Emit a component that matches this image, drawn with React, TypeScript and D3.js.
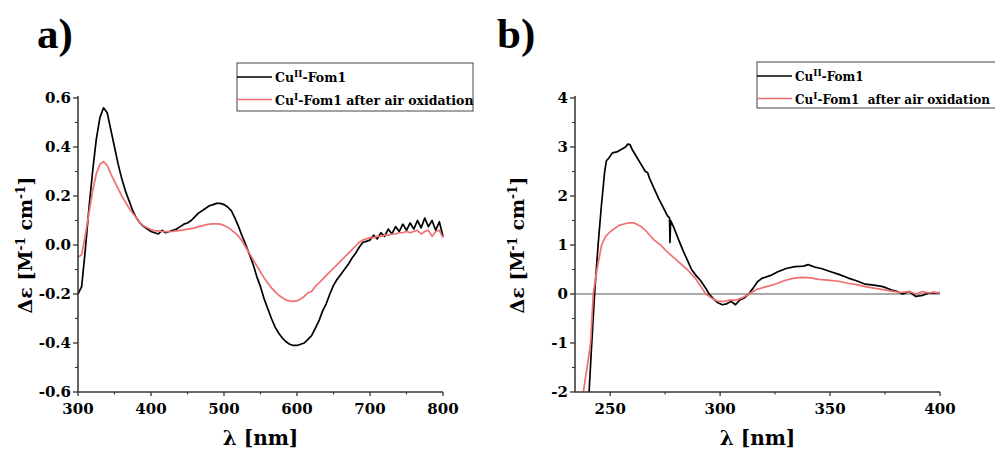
import React from "react";
import * as d3 from "d3";

// ---------- Data ----------
// Panel a: wavelengths 300..800 step 5
const wlA: number[] = d3.range(300, 801, 5);
const cu2A: number[] = [
  -0.2, -0.17, -0.02, 0.15, 0.3, 0.43, 0.52, 0.56, 0.54, 0.47,
  0.4, 0.33, 0.27, 0.22, 0.18, 0.14, 0.11, 0.09, 0.075, 0.065,
  0.055, 0.05, 0.045, 0.06, 0.05, 0.055, 0.06, 0.065, 0.075, 0.085,
  0.09, 0.1, 0.115, 0.13, 0.14, 0.15, 0.16, 0.165, 0.17, 0.17,
  0.165, 0.155, 0.14, 0.11, 0.075, 0.035, 0.0, -0.04, -0.08, -0.13,
  -0.17, -0.22, -0.26, -0.3, -0.335, -0.36, -0.38, -0.395, -0.405, -0.41,
  -0.41, -0.405, -0.4, -0.385, -0.37, -0.34, -0.31, -0.27, -0.24, -0.2,
  -0.165, -0.14, -0.12, -0.1, -0.08, -0.055, -0.035, -0.01, 0.01, 0.015,
  0.02, 0.04, 0.025, 0.05, 0.035, 0.065, 0.045, 0.075, 0.055, 0.085,
  0.06, 0.09, 0.065, 0.1, 0.07, 0.11, 0.075, 0.1, 0.06, 0.095,
  0.035,
];
const cu1A: number[] = [
  -0.05, -0.04, 0.04, 0.13, 0.22, 0.29, 0.33, 0.34, 0.325, 0.29,
  0.26, 0.23, 0.2, 0.175, 0.15, 0.13, 0.11, 0.09, 0.078, 0.07,
  0.063, 0.058, 0.058, 0.055, 0.055, 0.055, 0.056, 0.058, 0.06, 0.062,
  0.065, 0.067, 0.07, 0.075, 0.078, 0.082, 0.085, 0.086, 0.086, 0.085,
  0.08, 0.072, 0.062, 0.05, 0.035, 0.015, -0.01, -0.035, -0.06, -0.085,
  -0.11, -0.135, -0.155, -0.175, -0.19, -0.205, -0.215, -0.225, -0.228, -0.23,
  -0.228, -0.22, -0.21, -0.195, -0.19, -0.17, -0.155, -0.14, -0.125, -0.11,
  -0.095, -0.08, -0.065, -0.05, -0.035, -0.02, -0.005, 0.01, 0.02, 0.025,
  0.03, 0.03, 0.035, 0.035, 0.04, 0.04, 0.045, 0.045, 0.05, 0.05,
  0.055, 0.05, 0.055, 0.06, 0.045, 0.055, 0.06, 0.035, 0.055, 0.06,
  0.03,
];

// Panel b
const wlB2: number[] = [
  240.4, 241.5, 242.9, 244.5, 246, 247.5, 248.3, 249.5, 251, 253, 255, 257, 258, 259, 260, 262, 264, 266, 267, 268,
  270, 272, 274, 276, 277, 277.2, 277.5, 279, 281, 283, 285, 287, 289, 291, 293, 295, 297, 299, 301, 303,
  305, 307, 309, 311, 313, 315, 317, 319, 323, 326, 330, 334, 338, 340, 343, 346, 350, 354, 358, 362,
  366, 370, 374, 378, 380, 383, 386, 389, 392, 395, 398, 400,
];
const cu2B: number[] = [
  -2, -1.1, 0, 1.0, 1.8, 2.5, 2.72, 2.78, 2.88, 2.9, 2.95, 3.0, 3.06, 3.05, 2.95, 2.8, 2.65, 2.5, 2.48, 2.35,
  2.15, 1.95, 1.78, 1.6, 1.55, 1.05, 1.5, 1.35, 1.12, 0.9, 0.7, 0.5, 0.38, 0.28, 0.15, 0.0, -0.1, -0.18, -0.22, -0.2,
  -0.15, -0.22, -0.12, -0.08, 0.0, 0.12, 0.25, 0.32, 0.38, 0.45, 0.52, 0.56, 0.57, 0.6, 0.55, 0.52, 0.46, 0.4, 0.33, 0.27,
  0.2, 0.18, 0.15, 0.08, 0.06, 0.0, 0.05, -0.05, -0.03, 0.02, 0.02, 0.03,
];
const wlB1: number[] = [
  237.8, 239.5, 241.1, 242.3, 244, 246.1, 248, 250, 254, 258, 261, 264, 266, 268, 270, 273, 275, 278, 281, 285,
  288.6, 291.7, 293.5, 296, 299, 302, 305, 307, 310, 313, 317, 321, 325, 329, 333, 337, 341, 345, 350, 354,
  358, 362, 366, 370, 374, 378, 382, 386, 389, 392, 395, 397, 400,
];
const cu1B: number[] = [
  -2, -1.5, -1, 0, 0.5, 1.0, 1.18, 1.27, 1.4, 1.45, 1.45, 1.38, 1.3, 1.2, 1.1, 1.0, 0.9, 0.78, 0.66, 0.5,
  0.33, 0.12, 0.0, -0.08, -0.15, -0.15, -0.12, -0.13, -0.08, 0.0, 0.1, 0.15, 0.2, 0.27, 0.32, 0.34, 0.33, 0.3, 0.28, 0.26,
  0.22, 0.19, 0.15, 0.12, 0.09, 0.06, 0.03, 0.05, 0.0, 0.05, 0.02, 0.04, 0.02,
];

const xTicksA: number[] = [300, 400, 500, 600, 700, 800];
const xMinorA: number[] = [350, 450, 550, 650, 750];
const yTicksA: number[] = [-0.6, -0.4, -0.2, 0.0, 0.2, 0.4, 0.6];
const yMinorA: number[] = [-0.5, -0.3, -0.1, 0.1, 0.3, 0.5];
const xTicksB: number[] = [250, 300, 350, 400];
const xMinorB: number[] = [275, 325, 375];
const yTicksB: number[] = [-2, -1, 0, 1, 2, 3, 4];
const yMinorB: number[] = [-1.5, -0.5, 0.5, 1.5, 2.5, 3.5];

const BLACK = "#000000";
const RED = "#f07070";
const AXIS = "#333333";
const FONT = "'DejaVu Serif', serif";
const LABEL_FONT = "'Liberation Serif', serif";

type Series = { x: number[]; y: number[]; color: string };

function Panel(props: {
  left: number; right: number; top: number; bottom: number;
  xDomain: [number, number]; yDomain: [number, number];
  xTicks: number[]; xMinor: number[]; yTicks: number[]; yMinor: number[];
  yFmt: (v: number) => string; series: Series[]; zeroLine?: boolean;
  label: string; labelX: number; titleX: number;
  legend: { x: number; y: number; w: number; h: number; fs: number; texts: [string, string, string][] };
}) {
  const p = props;
  const x = d3.scaleLinear().domain(p.xDomain).range([p.left, p.right]);
  const y = d3.scaleLinear().domain(p.yDomain).range([p.bottom, p.top]);
  const xEnd = x(p.xTicks[p.xTicks.length - 1]);
  const line = d3.line<[number, number]>().x((d) => x(d[0])).y((d) => y(d[1]));
  const cx = (p.left + xEnd) / 2;
  const cy = (p.top + p.bottom) / 2;
  return (
    <g>
      <text x={p.labelX} y={48} fontFamily={LABEL_FONT} fontWeight="bold" fontSize={43}>{p.label}</text>
      {p.zeroLine && (
        <line x1={p.left} x2={xEnd} y1={y(0)} y2={y(0)} stroke="#555" strokeWidth={1.2} />
      )}
      <defs>
        <clipPath id={"clip" + p.label}>
          <rect x={p.left} y={p.top - 5} width={xEnd - p.left + 5} height={p.bottom - p.top + 5} />
        </clipPath>
      </defs>
      <g clipPath={`url(#clip${p.label})`}>
        {p.series.map((s, i) => (
          <path key={i} d={line(s.x.map((v, j) => [v, s.y[j]]) as [number, number][]) || ""}
            fill="none" stroke={s.color} strokeWidth={1.7} strokeLinejoin="round" />
        ))}
      </g>
      {/* axes */}
      <line x1={p.left} x2={p.left} y1={p.top - 2} y2={p.bottom} stroke={AXIS} strokeWidth={1.5} />
      <line x1={p.left} x2={xEnd} y1={p.bottom} y2={p.bottom} stroke={AXIS} strokeWidth={1.5} />
      {p.yTicks.map((t) => (
        <g key={"yt" + t}>
          <line x1={p.left - 5} x2={p.left} y1={y(t)} y2={y(t)} stroke={AXIS} strokeWidth={1.3} />
          <text x={p.left - 7} y={y(t)} dy="0.36em" textAnchor="end" fontFamily={FONT} fontWeight="bold" fontSize={15}>{p.yFmt(t)}</text>
        </g>
      ))}
      {p.yMinor.map((t) => (
        <line key={"ym" + t} x1={p.left - 3} x2={p.left} y1={y(t)} y2={y(t)} stroke={AXIS} strokeWidth={1.1} />
      ))}
      {p.xTicks.map((t) => (
        <g key={"xt" + t}>
          <line x1={x(t)} x2={x(t)} y1={p.bottom} y2={p.bottom + 4} stroke={AXIS} strokeWidth={1.3} />
          <text x={x(t)} y={p.bottom + 22} textAnchor="middle" fontFamily={FONT} fontWeight="bold" fontSize={15}>{t}</text>
        </g>
      ))}
      {p.xMinor.map((t) => (
        <line key={"xm" + t} x1={x(t)} x2={x(t)} y1={p.bottom} y2={p.bottom + 2.5} stroke={AXIS} strokeWidth={1.1} />
      ))}
      {/* axis titles */}
      <text x={cx} y={445} textAnchor="middle" fontFamily={FONT} fontWeight="bold" fontSize={20}>λ [nm]</text>
      <text transform={`translate(${p.titleX},${cy}) rotate(-90)`} textAnchor="middle" fontFamily={FONT} fontWeight="bold" fontSize={19}>
        Δε [M<tspan dy={-7} fontSize={12}>-1</tspan><tspan dy={7}> cm</tspan><tspan dy={-7} fontSize={12}>-1</tspan><tspan dy={7}>]</tspan>
      </text>
      {/* legend */}
      <rect x={p.legend.x} y={p.legend.y} width={p.legend.w} height={p.legend.h} fill="white" stroke="#444" strokeWidth={1} />
      {p.legend.texts.map((t, i) => {
        const ly = p.legend.y + 14 + i * 22.5;
        return (
          <g key={i}>
            <line x1={p.legend.x} x2={p.legend.x + 35} y1={ly} y2={ly} stroke={p.series[i].color} strokeWidth={1.7} />
            <text x={p.legend.x + 38} y={ly + 5} fontFamily={FONT} fontWeight="bold" fontSize={p.legend.fs} style={{ whiteSpace: "pre" }}>
              {t[0]}<tspan dy={-5} fontSize={9}>{t[1]}</tspan><tspan dy={5}>{t[2]}</tspan>
            </text>
          </g>
        );
      })}
    </g>
  );
}

export default function App() {
  return (
    <svg width={995} height={450} style={{ position: "absolute", left: 0, top: 0, background: "white" }}>
      <rect width={995} height={450} fill="white" />
      <Panel
        left={78} right={443} top={98} bottom={392}
        xDomain={[300, 800]} yDomain={[-0.6, 0.6]}
        xTicks={xTicksA} xMinor={xMinorA} yTicks={yTicksA} yMinor={yMinorA}
        yFmt={(v) => d3.format(".1f")(v).replace("−", "-")}
        series={[{ x: wlA, y: cu2A, color: BLACK }, { x: wlA, y: cu1A, color: RED }]}
        label="a)" labelX={37} titleX={32}
        legend={{ x: 237, y: 63, w: 236, h: 48, fs: 12.5, texts: [["Cu", "II", "-Fom1"], ["Cu", "I", "-Fom1 after air oxidation"]] }}
      />
      <Panel
        left={575} right={940} top={98} bottom={392}
        xDomain={[234, 400]} yDomain={[-2, 4]}
        xTicks={xTicksB} xMinor={xMinorB} yTicks={yTicksB} yMinor={yMinorB}
        yFmt={(v) => d3.format("d")(v).replace("−", "-")}
        series={[{ x: wlB2, y: cu2B, color: BLACK }, { x: wlB1, y: cu1B, color: RED }]}
        zeroLine label="b)" labelX={497} titleX={524}
        legend={{ x: 757, y: 62, w: 250, h: 46, fs: 12, texts: [["Cu", "II", "-Fom1"], ["Cu", "I", "-Fom1\u00a0 after air oxidation"]] }}
      />
    </svg>
  );
}
